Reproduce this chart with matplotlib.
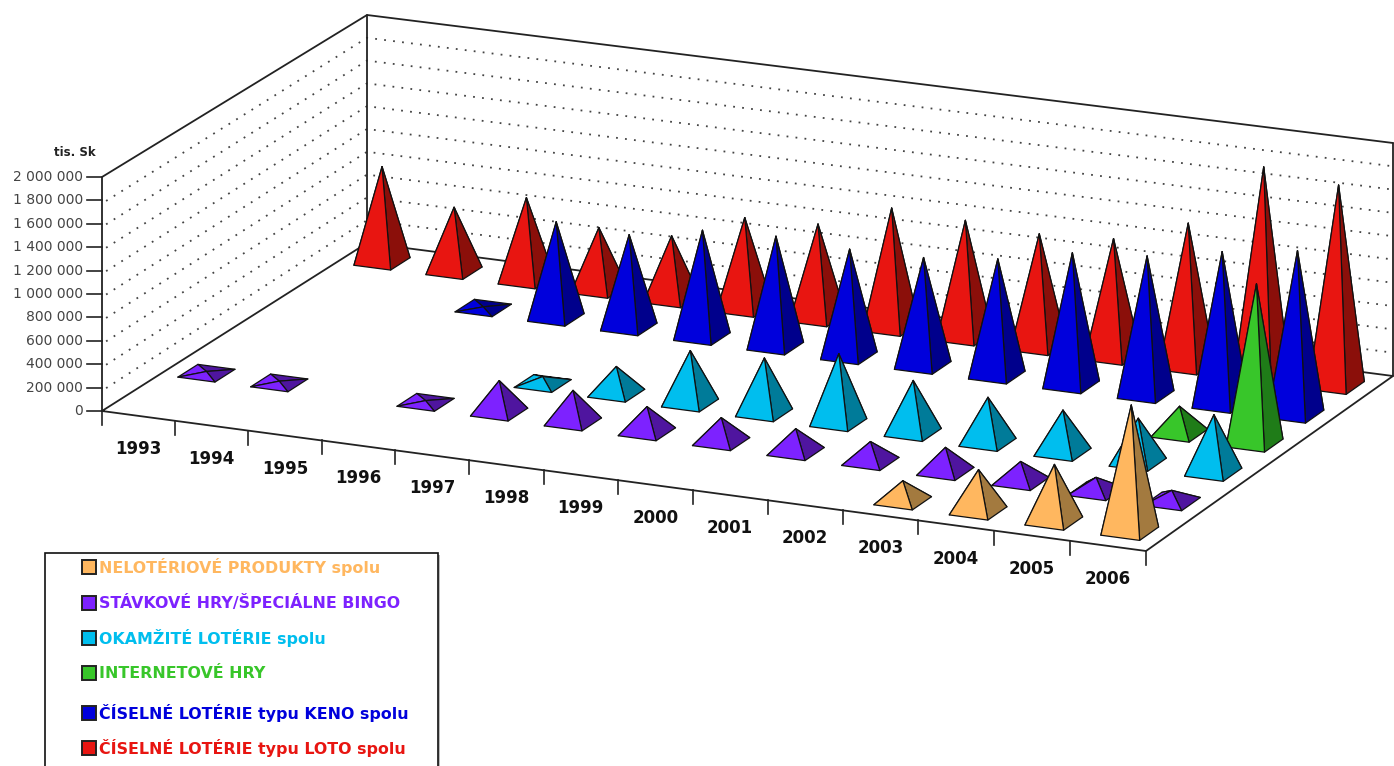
import numpy as np
import matplotlib
matplotlib.use("Agg")
import matplotlib.pyplot as plt
from matplotlib.patches import Polygon, Rectangle

years = ['1993', '1994', '1995', '1996', '1997', '1998', '1999',
         '2000', '2001', '2002', '2003', '2004', '2005', '2006']
y_ticks = [0, 200000, 400000, 600000, 800000, 1000000, 1200000,
           1400000, 1600000, 1800000, 2000000]
y_labels = ['0', '200 000', '400 000', '600 000', '800 000', '1 000 000', '1 200 000',
            '1 400 000', '1 600 000', '1 800 000', '2 000 000']

# tis. Sk (0 = nothing drawn)
nelot = [0, 0, 0, 0, 0, 0, 0, 0, 0, 0, 170000, 350000, 480000, 1070000]
stavkove = [15000, 15000, 0, 15000, 270000, 270000, 215000, 205000, 195000, 170000,
            205000, 170000, 120000, 95000]
okamzite = [0, 0, 0, 0, 60000, 230000, 450000, 470000, 590000, 445000,
            385000, 360000, 375000, 490000]
internet = [0, 0, 0, 0, 0, 0, 0, 0, 0, 0, 0, 0, 230000, 1360000]
keno = [0, 0, 10000, 830000, 800000, 920000, 950000, 920000, 930000, 1000000,
        1135000, 1190000, 1310000, 1400000]
loto = [830000, 555000, 720000, 540000, 550000, 790000, 815000, 1035000, 1010000, 975000,
        1015000, 1230000, 1795000, 1720000]

names = ['NELOTÉRIOVÉ PRODUKTY spolu', 'STÁVKOVÉ HRY/ŠPECIÁLNE BINGO', 'OKAMŽITÉ LOTÉRIE spolu',
         'INTERNETOVÉ HRY', 'ČÍSELNÉ LOTÉRIE typu KENO spolu', 'ČÍSELNÉ LOTÉRIE typu LOTO spolu']
series = [nelot, stavkove, okamzite, internet, keno, loto]
light = ['#FFB75F', '#7D22FF', '#00BEEE', '#38C62A', '#0000DC', '#E81511']
dark = ['#A37A3F', '#4F159F', '#007B99', '#1F7C18', '#00008C', '#8B0F0A']
legend_y = [567, 603, 638, 673, 713, 748]

# floor corners in pixels: front left, front right, back right, back left
corners = np.array([[102, 411], [1146, 551], [1393, 376], [367, 243]], dtype=float)
wall_h = np.array([234, 236, 233, 228]) / 2000000


def floor_matrix(pts):
    # homography from the unit square to the floor
    src = [(0, 0), (1, 0), (1, 1), (0, 1)]
    A, b = [], []
    for (u, v), (x, y) in zip(src, pts):
        A.append([u, v, 1, 0, 0, 0, -u * x, -v * x])
        A.append([0, 0, 0, u, v, 1, -u * y, -v * y])
        b += [x, y]
    return np.append(np.linalg.solve(np.array(A), np.array(b)), 1).reshape(3, 3)


H = floor_matrix(corners)


def project(u, v, z=0):
    p = H @ np.array([u, v, 1.0])
    k = (wall_h[0] * (1 - u) * (1 - v) + wall_h[1] * u * (1 - v)
         + wall_h[2] * u * v + wall_h[3] * (1 - u) * v)
    return p[0] / p[2], p[1] / p[2] - z * k


def pyramid(ax, i, j, value, col, col_dark):
    du = 0.255 / len(years)
    dv = 0.225 / len(series)
    u = (i + 0.51) / len(years)
    v = (j + 0.5) / len(series)
    fl = project(u - du, v - dv)
    fr = project(u + du, v - dv)
    br = project(u + du, v + dv)
    bl = project(u - du, v + dv)
    top = project(u, v, value)
    # tips drift a little to the right towards the far end of the chart
    top = (top[0] + value * 1.5e-6 * u, top[1])
    faces = [((bl, br, top), col_dark), ((bl, fl, top), col), ((fr, br, top), col_dark), ((fl, fr, top), col)]
    for pts, c in faces:
        ax.add_patch(Polygon(pts, closed=True, facecolor=c, edgecolor='#111111', linewidth=0.9,
                             joinstyle='round', zorder=3))


fig = plt.figure(figsize=(13.94, 7.66), dpi=100)
ax = fig.add_axes([0, 0, 1, 1])
ax.set_xlim(0, 1394)
ax.set_ylim(766, 0)
ax.axis('off')

# gridlines on both walls
for z in y_ticks[1:-1]:
    xs, ys = zip(project(0.004, 0, z), project(0, 1, z), project(1, 1, z))
    ax.plot(xs, ys, color='#444444', linewidth=1.3, linestyle=(0, (1, 4)))

# wall and floor outlines
top_z = y_ticks[-1]
outline = [[(0, 0, 0), (0, 0, top_z), (0, 1, top_z), (1, 1, top_z)],
           [(0, 1, 0), (0, 1, top_z)],
           [(1, 1, 0), (1, 1, top_z)],
           [(0, 0, 0), (0, 1, 0), (1, 1, 0), (1, 0, 0), (0, 0, 0)]]
for line in outline:
    xs, ys = zip(*[project(*p) for p in line])
    ax.plot(xs, ys, color='#222222', linewidth=1.3, solid_capstyle='round')

# value axis
for z, lab in zip(y_ticks, y_labels):
    x, y = project(0, 0, z)
    ax.plot([x - 15, x], [y, y], color='#222222', linewidth=1.2)
    ax.text(83, y, lab, ha='right', va='center', fontsize=10, color='#444444')
ax.text(75, 152, 'tis. Sk', ha='center', va='center', fontsize=8.5, fontweight='bold', color='#222222')

# category axis
for i in range(len(years) + 1):
    x, y = project(i / len(years), 0)
    ax.plot([x, x], [y, y + 14], color='#222222', linewidth=1.2)
for i, lab in enumerate(years):
    x, y = project((i + 0.5) / len(years), 0)
    ax.text(x, y + 33, lab, ha='center', va='center', fontsize=12, fontweight='bold', color='#111111')

# back rows first, left to right inside a row
for j in reversed(range(len(series))):
    for i, value in enumerate(series[j]):
        if value > 0:
            pyramid(ax, i, j, value, light[j], dark[j])

# legend box
ax.add_patch(Rectangle((47, 555), 393, 215, facecolor='#BBBBBB', edgecolor='none', zorder=4))
ax.add_patch(Rectangle((45, 553), 393, 215, facecolor='white', edgecolor='#111111', linewidth=1.2, zorder=4))
for name, c, y in zip(names, light, legend_y):
    ax.add_patch(Rectangle((82, y - 7), 14, 14, facecolor=c, edgecolor='#222222', linewidth=1.4, zorder=5))
    ax.text(99, y, name, ha='left', va='center', fontsize=11.4, fontweight='bold', color=c, zorder=5)

fig.savefig('out.png', dpi=100)
